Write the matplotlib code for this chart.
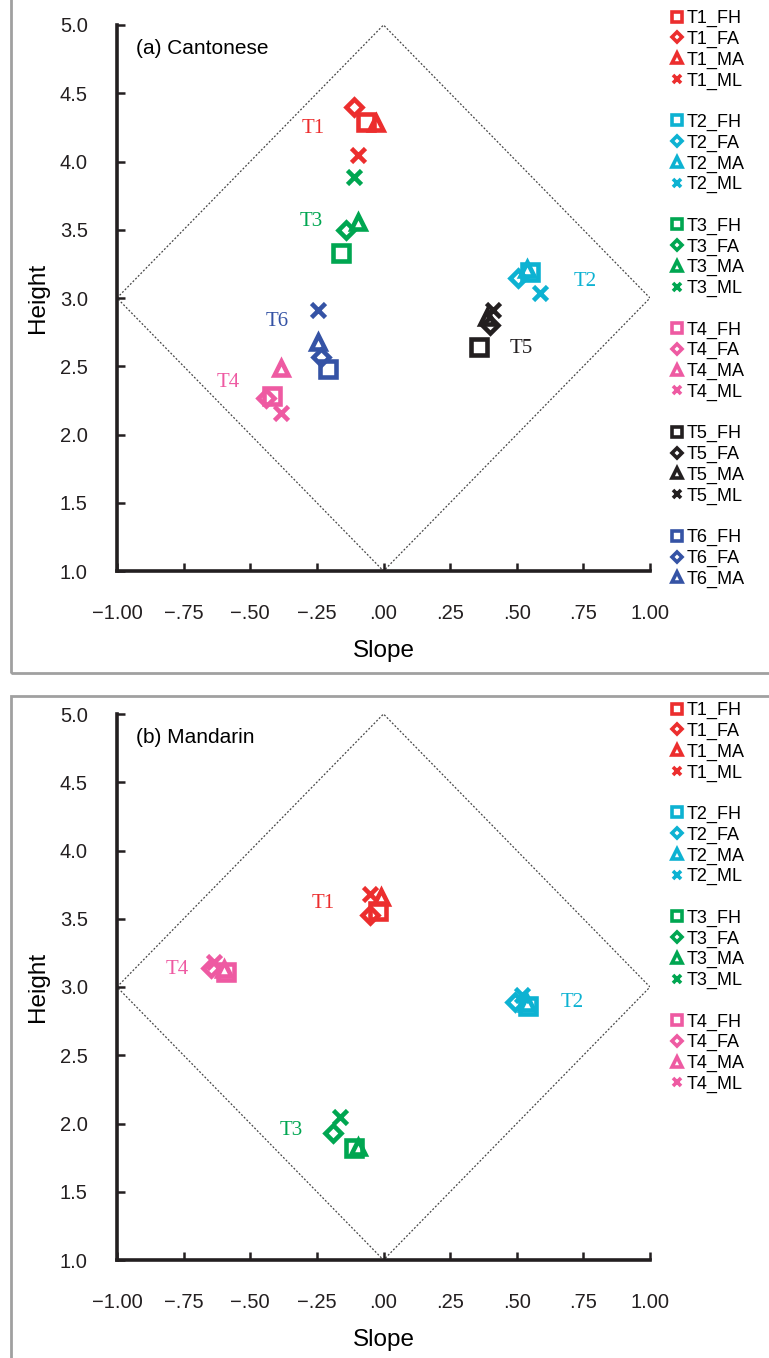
import numpy as np
import matplotlib.pyplot as plt
from matplotlib.lines import Line2D
from matplotlib.patches import Rectangle

# tone colours and speaker markers
tone_colors = {'T1': '#EC2E2E', 'T2': '#0DB2D2', 'T3': '#00A651',
               'T4': '#EE5AA2', 'T5': '#231F20', 'T6': '#3553A5'}
speakers = ['FH', 'FA', 'MA', 'ML']
spk_markers = {'FH': 's', 'FA': 'D', 'MA': '^', 'ML': 'x'}

# (a) Cantonese, long format
cant_tone = ['T1'] * 4 + ['T2'] * 4 + ['T3'] * 4 + ['T4'] * 4 + ['T5'] * 4 + ['T6'] * 4
cant_spk = speakers * 6
cant_slope = [-0.067, -0.112, -0.030, -0.097,
              0.551, 0.506, 0.539, 0.588,
              -0.161, -0.142, -0.097, -0.112,
              -0.419, -0.442, -0.386, -0.386,
              0.360, 0.400, 0.390, 0.412,
              -0.210, -0.236, -0.247, -0.247]
cant_height = [4.29, 4.40, 4.28, 4.05,
               3.19, 3.15, 3.21, 3.04,
               3.33, 3.50, 3.56, 3.89,
               2.28, 2.27, 2.49, 2.16,
               2.64, 2.80, 2.86, 2.91,
               2.48, 2.57, 2.68, 2.91]

# (b) Mandarin
mand_tone = ['T1'] * 4 + ['T2'] * 4 + ['T3'] * 4 + ['T4'] * 4
mand_spk = speakers * 4
mand_slope = [-0.022, -0.049, -0.011, -0.049,
              0.543, 0.494, 0.540, 0.520,
              -0.112, -0.190, -0.097, -0.165,
              -0.592, -0.648, -0.599, -0.637]
mand_height = [3.56, 3.53, 3.66, 3.68,
               2.86, 2.89, 2.88, 2.94,
               1.82, 1.93, 1.83, 2.05,
               3.11, 3.14, 3.13, 3.18]

x_ticks = [-1.0, -0.75, -0.5, -0.25, 0.0, 0.25, 0.5, 0.75, 1.0]
x_ticklabels = ['\u22121.00', '\u2212.75', '\u2212.50', '\u2212.25', '.00', '.25', '.50', '.75', '1.00']
y_ticks = [1.0, 1.5, 2.0, 2.5, 3.0, 3.5, 4.0, 4.5, 5.0]

sans = 'Liberation Sans'
serif = 'Liberation Serif'

fig = plt.figure(figsize=(7.69, 13.58), dpi=100)

# grey frames around each panel
fig.patches.append(Rectangle((11 / 769, 1 - 673 / 1358), 1.0, 680 / 1358,
                             transform=fig.transFigure, fill=False,
                             edgecolor='#A0A0A0', linewidth=2))
fig.patches.append(Rectangle((11 / 769, -0.01), 1.0, (1358 - 696) / 1358 + 0.01,
                             transform=fig.transFigure, fill=False,
                             edgecolor='#A0A0A0', linewidth=2))

main_sizes = {'s': 11.5, 'D': 8.5, '^': 10.5, 'x': 10}
legend_sizes = {'s': 6.5, 'D': 5.2, '^': 7, 'x': 6}


def draw_panel(ax, tones, spks, slope, height, title, tone_labels, legend_tones, legend_top):
    # dotted diamond of the tone space
    ax.plot([-1, 0, 1, 0, -1], [3, 5, 3, 1, 3], linestyle=(0, (1.5, 1.5)),
            color='#444444', linewidth=0.9, zorder=1)
    for t, s, x, y in zip(tones, spks, slope, height):
        m = spk_markers[s]
        ax.plot(x, y, marker=m, markersize=main_sizes[m], markerfacecolor='none',
                markeredgecolor=tone_colors[t], markeredgewidth=3.3,
                linestyle='none', zorder=3)
    for t, (lx, ly) in tone_labels.items():
        ax.text(lx, ly, t, color=tone_colors[t], fontsize=15, family=serif,
                ha='center', va='center')
    ax.text(-0.93, 4.83, title, fontsize=15, family=sans, ha='left', va='center')

    ax.set_xlim(-1.0, 1.0)
    ax.set_ylim(1.0, 5.0)
    ax.set_xticks(x_ticks)
    ax.set_xticklabels(x_ticklabels)
    ax.set_yticks(y_ticks)
    ax.set_yticklabels([f'{v:.1f}' for v in y_ticks])
    for side in ['top', 'right']:
        ax.spines[side].set_visible(False)
    for side in ['left', 'bottom']:
        ax.spines[side].set_linewidth(2.6)
        ax.spines[side].set_color('#231F20')
    ax.tick_params(direction='in', length=6, width=1.8, color='#231F20',
                   labelsize=14.5, pad=21)
    ax.tick_params(axis='x', pad=24)
    for lab in ax.get_xticklabels() + ax.get_yticklabels():
        lab.set_family(sans)
        lab.set_color('#231F20')
    ax.set_xlabel('Slope', fontsize=17.5, family=sans, labelpad=12)
    ax.set_ylabel('Height', fontsize=17.5, family=sans, labelpad=8)

    # legend grouped by tone with a blank row between groups
    handles, labels = [], []
    for i, t in enumerate(legend_tones):
        if i > 0:
            handles.append(Line2D([], [], linestyle='none'))
            labels.append(' ')
        for s in speakers:
            if t == 'T6' and s == 'ML':
                continue
            m = spk_markers[s]
            handles.append(Line2D([], [], marker=m, linestyle='none',
                                  markersize=legend_sizes[m], markerfacecolor='none',
                                  markeredgecolor=tone_colors[t], markeredgewidth=2.6))
            labels.append(f'{t}_{s}')
    fig.legend(handles, labels, loc='upper left',
               bbox_to_anchor=(672 / 769, 1 - legend_top / 1358),
               bbox_transform=fig.transFigure, frameon=False,
               prop={'family': sans, 'size': 13}, handlelength=0.6,
               handletextpad=0.2, labelspacing=0.2, borderpad=0, borderaxespad=0)


ax_a = fig.add_axes([117 / 769, 1 - 571 / 1358, 533 / 769, 546 / 1358])
draw_panel(ax_a, cant_tone, cant_spk, cant_slope, cant_height, '(a) Cantonese',
           {'T1': (-0.262, 4.24), 'T3': (-0.27, 3.56), 'T6': (-0.40, 2.83),
            'T4': (-0.584, 2.38), 'T2': (0.757, 3.12), 'T5': (0.517, 2.63)},
           ['T1', 'T2', 'T3', 'T4', 'T5', 'T6'], 10)

ax_b = fig.add_axes([117 / 769, 1 - 1260 / 1358, 533 / 769, 546 / 1358])
draw_panel(ax_b, mand_tone, mand_spk, mand_slope, mand_height, '(b) Mandarin',
           {'T1': (-0.225, 3.61), 'T4': (-0.775, 3.13), 'T2': (0.708, 2.89),
            'T3': (-0.348, 1.95)},
           ['T1', 'T2', 'T3', 'T4'], 702)

fig.savefig('out.png', dpi=100)
